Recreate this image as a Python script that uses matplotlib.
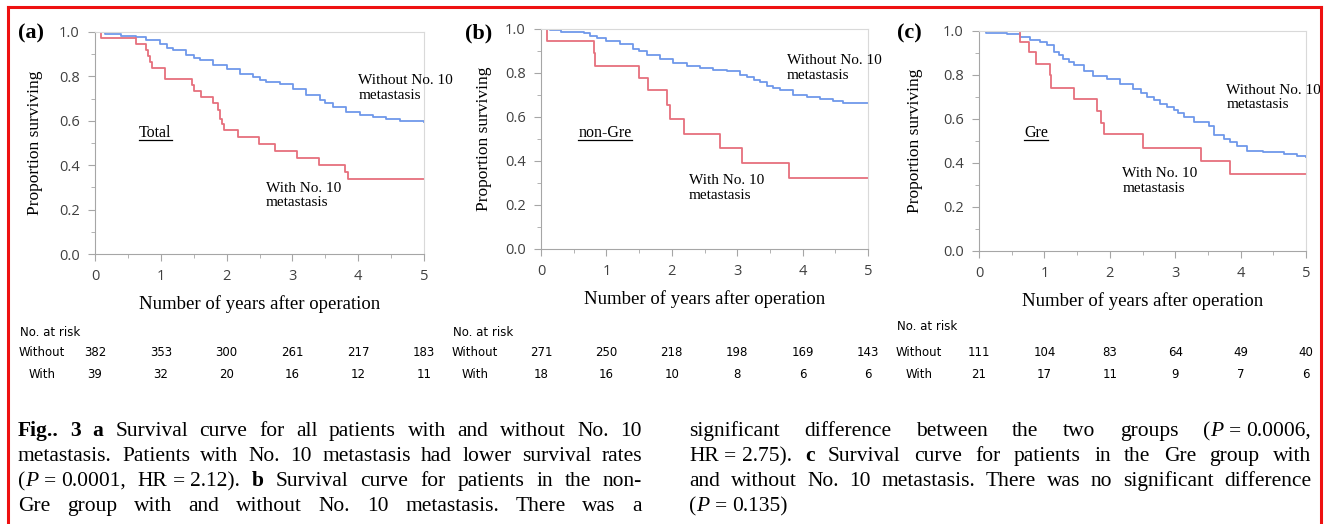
import re
import matplotlib
matplotlib.use("Agg")
import matplotlib.pyplot as plt
import matplotlib.transforms as mtransforms
from matplotlib.lines import Line2D
from matplotlib.ticker import MultipleLocator, FormatStrFormatter

# ---- data ----
# (a) Total
a_with_t = [0, 0.09, 0.63, 0.77, 0.81, 0.835, 0.86, 1.07, 1.47, 1.50, 1.61, 1.80, 1.87, 1.90, 1.93, 1.96,
            2.18, 2.49, 2.74, 3.07, 3.40, 3.80, 3.85, 5.0]
a_with_s = [1.0, 0.973, 0.948, 0.918, 0.892, 0.866, 0.84, 0.787, 0.76, 0.735, 0.705, 0.678, 0.65, 0.61, 0.585,
            0.558, 0.528, 0.496, 0.464, 0.434, 0.403, 0.371, 0.34, 0.34]
a_wo_t = [0, 0.15, 0.4, 0.63, 0.78, 0.99, 1.1, 1.19, 1.39, 1.5, 1.59, 1.8, 2.0, 2.2, 2.4, 2.5, 2.6, 2.81,
          3.01, 3.21, 3.42, 3.5, 3.62, 3.82, 4.02, 4.23, 4.43, 4.63, 5.0]
a_wo_s = [1.0, 0.99, 0.982, 0.978, 0.963, 0.945, 0.93, 0.918, 0.895, 0.882, 0.873, 0.85, 0.835, 0.813, 0.798,
          0.785, 0.775, 0.765, 0.741, 0.716, 0.693, 0.682, 0.663, 0.641, 0.626, 0.615, 0.608, 0.60, 0.593]

# (b) non-Gre
b_with_t = [0, 0.09, 0.81, 0.83, 1.50, 1.63, 1.93, 1.97, 2.19, 2.74, 3.08, 3.79, 5.0]
b_with_s = [1.0, 0.944, 0.889, 0.833, 0.778, 0.722, 0.656, 0.59, 0.522, 0.457, 0.39, 0.325, 0.325]
b_wo_t = [0, 0.14, 0.3, 0.65, 0.75, 0.85, 1.0, 1.21, 1.41, 1.5, 1.62, 1.82, 2.02, 2.23, 2.43, 2.63, 2.84,
          3.04, 3.15, 3.25, 3.35, 3.45, 3.55, 3.65, 3.86, 4.06, 4.26, 4.47, 4.62, 5.0]
b_wo_s = [1.0, 0.997, 0.986, 0.982, 0.97, 0.959, 0.944, 0.933, 0.91, 0.9, 0.883, 0.863, 0.845, 0.83, 0.822,
          0.812, 0.807, 0.792, 0.782, 0.769, 0.757, 0.742, 0.732, 0.721, 0.701, 0.69, 0.683, 0.671, 0.662, 0.662]

# (c) Gre
c_with_t = [0, 0.63, 0.77, 0.87, 1.09, 1.10, 1.46, 1.81, 1.86, 1.91, 2.50, 3.40, 3.84, 5.0]
c_with_s = [1.0, 0.952, 0.905, 0.852, 0.80, 0.743, 0.69, 0.635, 0.582, 0.53, 0.47, 0.41, 0.352, 0.352]
c_wo_t = [0, 0.1, 0.43, 0.63, 0.78, 0.94, 1.04, 1.14, 1.22, 1.29, 1.37, 1.45, 1.6, 1.75, 1.96, 2.16, 2.36,
          2.47, 2.57, 2.67, 2.77, 2.88, 2.98, 3.05, 3.13, 3.28, 3.51, 3.59, 3.74, 3.84, 3.94, 4.1, 4.35,
          4.66, 4.86, 5.0]
c_wo_s = [1.0, 0.992, 0.985, 0.973, 0.961, 0.95, 0.935, 0.905, 0.89, 0.874, 0.86, 0.844, 0.818, 0.794,
          0.784, 0.761, 0.738, 0.72, 0.70, 0.685, 0.67, 0.655, 0.64, 0.625, 0.607, 0.587, 0.567, 0.526,
          0.511, 0.496, 0.477, 0.455, 0.45, 0.44, 0.43, 0.428]

risk_years = [0, 1, 2, 3, 4, 5]
a_risk_without = [382, 353, 300, 261, 217, 183]
a_risk_with = [39, 32, 20, 16, 12, 11]
b_risk_without = [271, 250, 218, 198, 169, 143]
b_risk_with = [18, 16, 10, 8, 6, 6]
c_risk_without = [111, 104, 83, 64, 49, 40]
c_risk_with = [21, 17, 11, 9, 7, 6]

panel_labels = ["(a)", "(b)", "(c)"]
group_names = ["Total", "non-Gre", "Gre"]

caption_left = [
    "**Fig..** **3** **a** Survival curve for all patients with and without No. 10",
    "metastasis. Patients with No. 10 metastasis had lower survival rates",
    "(*P*~=~0.0001, HR~=~2.12). **b** Survival curve for patients in the non-",
    "Gre group with and without No. 10 metastasis. There was a",
]
caption_right = [
    "significant difference between the two groups (*P*~=~0.0006,",
    "HR~=~2.75). **c** Survival curve for patients in the Gre group with",
    "and without No. 10 metastasis. There was no significant difference",
    "(*P*~=~0.135)",
]

# ---- styling ----
SERIF = "Liberation Serif"
TICKF = "Open Sans"
NARROW = ["Liberation Sans Narrow", "DejaVu Sans"]
BLUE = "#6f98ea"
RED = "#e6707d"
W, H = 1325, 524

fig = plt.figure(figsize=(W / 100, H / 100), dpi=100)


def box(x0, x1, ytop, ybot):
    return [x0 / W, 1 - ybot / H, (x1 - x0) / W, (ybot - ytop) / H]


panels = [
    dict(rect=box(95, 424, 32, 254), data=(a_wo_t, a_wo_s, a_with_t, a_with_s),
         risk=(a_risk_without, a_risk_with), lab_xy=(18, 33), ylab_x=-0.158,
         grp_xy=(0.67, 0.545), wo_xy=(4.0, 0.81), w_xy=(2.6, 0.325),
         risk_lab_x=20, risk_y=(333, 353, 375)),
    dict(rect=box(541, 868, 29, 249), data=(b_wo_t, b_wo_s, b_with_t, b_with_s),
         risk=(b_risk_without, b_risk_with), lab_xy=(465, 33), ylab_x=-0.15,
         grp_xy=(0.57, 0.527), wo_xy=(3.76, 0.885), w_xy=(2.26, 0.34),
         risk_lab_x=453, risk_y=(333, 353, 375)),
    dict(rect=box(979, 1306, 31, 251), data=(c_wo_t, c_wo_s, c_with_t, c_with_s),
         risk=(c_risk_without, c_risk_with), lab_xy=(897, 33), ylab_x=-0.171,
         grp_xy=(0.69, 0.536), wo_xy=(3.78, 0.76), w_xy=(2.19, 0.38),
         risk_lab_x=897, risk_y=(327, 352, 375)),
]

underlines = []
for i, p in enumerate(panels):
    ax = fig.add_axes(p["rect"])
    wo_t, wo_s, w_t, w_s = p["data"]
    ax.step(wo_t, wo_s, where="post", color=BLUE, lw=1.3)
    ax.step(w_t, w_s, where="post", color=RED, lw=1.3)
    ax.set_xlim(0, 5)
    ax.set_ylim(0, 1)
    for side in ["left", "bottom"]:
        ax.spines[side].set_color("#a6a6a6")
    for side in ["top", "right"]:
        ax.spines[side].set_color("#d9d9d9")
    ax.xaxis.set_major_locator(MultipleLocator(1))
    ax.xaxis.set_minor_locator(MultipleLocator(0.5))
    ax.yaxis.set_major_locator(MultipleLocator(0.2))
    ax.yaxis.set_minor_locator(MultipleLocator(0.1))
    ax.yaxis.set_major_formatter(FormatStrFormatter("%.1f"))
    ax.tick_params(which="major", length=5, color="#a6a6a6", pad=6, labelsize=10.5, labelcolor="#404040")
    ax.tick_params(which="minor", length=3, color="#a6a6a6")
    for lab in ax.get_xticklabels() + ax.get_yticklabels():
        lab.set_fontfamily(TICKF)
    ax.set_ylabel("Proportion surviving", family=SERIF, fontsize=12.5)
    ax.yaxis.set_label_coords(p["ylab_x"], 0.5)
    ax.set_xlabel("Number of years after operation", family=SERIF, fontsize=13.5)
    ax.xaxis.set_label_coords(0.5, -0.185)

    fig.text(p["lab_xy"][0] / W, 1 - p["lab_xy"][1] / H, panel_labels[i], family=SERIF,
             weight="bold", fontsize=16, va="center", ha="left")

    g = ax.text(p["grp_xy"][0], p["grp_xy"][1], group_names[i], family=SERIF, fontsize=11.5,
                ha="left", va="center")
    underlines.append(g)
    ax.text(p["wo_xy"][0], p["wo_xy"][1], "Without No. 10\nmetastasis", family=SERIF, fontsize=11,
            ha="left", va="top", linespacing=1.15, clip_on=False)
    ax.text(p["w_xy"][0], p["w_xy"][1], "With No. 10\nmetastasis", family=SERIF, fontsize=11,
            ha="left", va="top", linespacing=1.15)

    # number at risk table
    trans = mtransforms.blended_transform_factory(ax.transData, fig.transFigure)
    ry = [1 - v / H for v in p["risk_y"]]
    fig.text(p["risk_lab_x"] / W, ry[0], "No. at risk", family=NARROW, fontsize=8.5,
             ha="left", va="center")
    cx = (p["risk_lab_x"] + 22) / W
    fig.text(cx, ry[1], "Without", family=NARROW, fontsize=8.5, ha="center", va="center")
    fig.text(cx, ry[2], "With", family=NARROW, fontsize=8.5, ha="center", va="center")
    for yr, n1, n2 in zip(risk_years, p["risk"][0], p["risk"][1]):
        ax.text(yr, ry[1], str(n1), transform=trans, family=NARROW, fontsize=8.5,
                ha="center", va="center", clip_on=False)
        ax.text(yr, ry[2], str(n2), transform=trans, family=NARROW, fontsize=8.5,
                ha="center", va="center", clip_on=False)

# ---- caption, justified by hand ----
renderer = fig.canvas.get_renderer()
CAP_SIZE = 15.5
tok_re = re.compile(r"\*\*[^*]+\*\*|\*[^*]+\*|~|[^*~]+")


def make_word(word):
    segs = []
    for m in tok_re.findall(word):
        if m == "~":
            segs.append(("~", None))
        elif m.startswith("**"):
            segs.append((m[2:-2], dict(weight="bold")))
        elif m.startswith("*"):
            segs.append((m[1:-1], dict(style="italic")))
        else:
            segs.append((m, {}))
    return segs


probe_a = fig.text(0, 0, "nn", family=SERIF, fontsize=CAP_SIZE)
probe_b = fig.text(0, 0, "n n", family=SERIF, fontsize=CAP_SIZE)
space_w = (probe_b.get_window_extent(renderer).width - probe_a.get_window_extent(renderer).width)
probe_a.remove()
probe_b.remove()


def draw_line(line, x0, x1, ybase, justify=True):
    words = []
    for w in line.split(" "):
        items = []
        width = 0
        for txt, kw in make_word(w):
            if kw is None:
                items.append((None, space_w))
                width += space_w
                continue
            t = fig.text(0, 1 - ybase / H, txt, family=SERIF, fontsize=CAP_SIZE, va="baseline", **kw)
            tw = t.get_window_extent(renderer).width
            items.append((t, tw))
            width += tw
        words.append((items, width))
    total = sum(wd for _, wd in words)
    gaps = len(words) - 1
    gap = (x1 - x0 - total) / gaps if (justify and gaps) else space_w
    x = x0
    for items, wd in words:
        for t, tw in items:
            if t is not None:
                t.set_x(x / W)
            x += tw
        x += gap


cap_y = [436, 461, 486, 511]
for k, line in enumerate(caption_left):
    draw_line(line, 18, 642, cap_y[k])
for k, line in enumerate(caption_right):
    draw_line(line, 689, 1311, cap_y[k], justify=(k < len(caption_right) - 1))

# underline the group names
for g in underlines:
    bb = g.get_window_extent(renderer)
    yb = bb.y0 + 1
    fig.add_artist(Line2D([bb.x0 / W, bb.x1 / W], [yb / H, yb / H], color="black", lw=0.9))

# red frame
frame = dict(color="#ee1111", lw=2.2)
fig.add_artist(Line2D([8 / W, 8 / W], [0, 1 - 7 / H], **frame))
fig.add_artist(Line2D([8 / W, 1321 / W], [1 - 7 / H, 1 - 7 / H], **frame))
fig.add_artist(Line2D([1321 / W, 1321 / W], [1 - 7 / H, 0], **frame))

fig.savefig("out.png", dpi=100)
